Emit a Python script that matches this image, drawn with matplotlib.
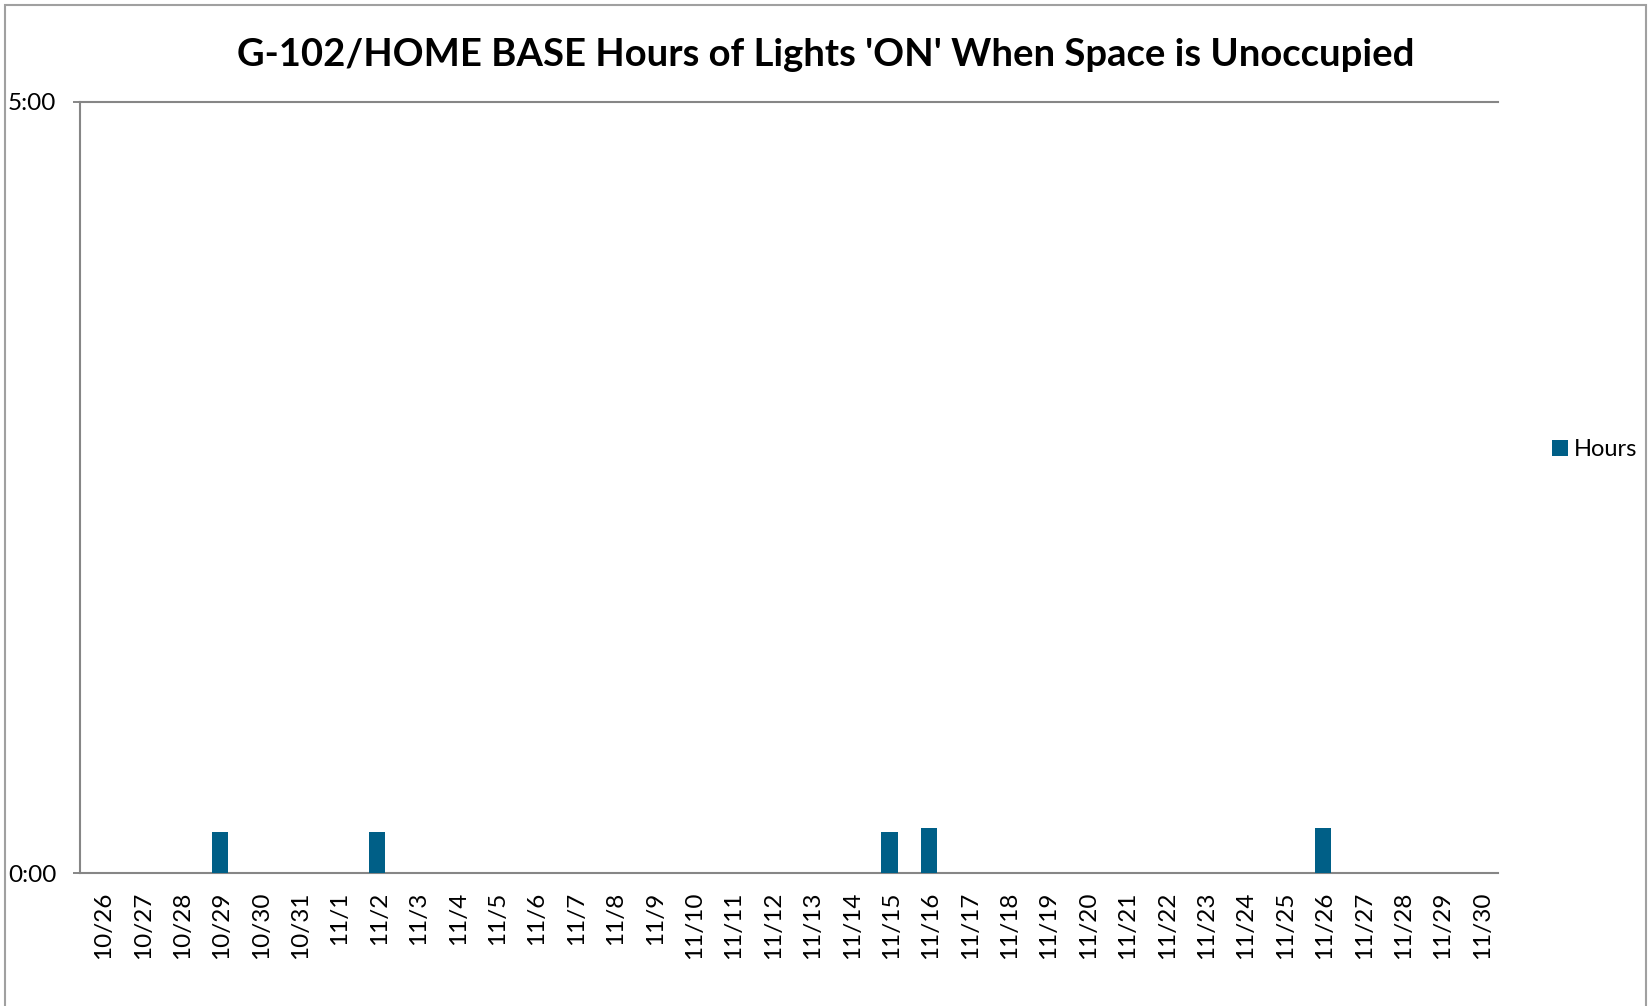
import matplotlib
matplotlib.use("Agg")
import matplotlib.pyplot as plt
import matplotlib.transforms as mtransforms
from matplotlib.patches import Rectangle
from matplotlib.ticker import FuncFormatter, FixedLocator

# ---- data ----
dates = ["10/26", "10/27", "10/28", "10/29", "10/30", "10/31"] + [f"11/{d}" for d in range(1, 31)]
hours = [0, 0, 0, 0.267, 0, 0,
         0, 0.267, 0, 0, 0, 0, 0, 0, 0, 0,
         0, 0, 0, 0, 0.267, 0.292, 0, 0, 0, 0,
         0, 0, 0, 0, 0, 0.292, 0, 0, 0, 0]
series_name = "Hours"
title = "G-102/HOME BASE Hours of Lights 'ON' When Space is Unoccupied"
y_ticks = [0, 5]

W, H = 1652, 1006
plt.rcParams['font.family'] = ['Lato', 'DejaVu Sans']
fig = plt.figure(figsize=(W / 100, H / 100), dpi=100)

# chart-area border
fig.patches.append(Rectangle((5 / W, -0.05), (1646 - 5) / W, 1 - 5 / H + 0.05,
                             transform=fig.transFigure, fill=False,
                             edgecolor="#A0A0A0", linewidth=1.5))

left, right, top, bottom = 80 / W, 1498 / W, 1 - 102 / H, 1 - 873 / H
ax = fig.add_axes([left, bottom, right - left, top - bottom])

bar_color = "#005F87"
x = list(range(len(dates)))
ax.bar([i + 0.05 for i in x], hours, width=0.41, color=bar_color, label=series_name, zorder=3)

ax.set_xlim(-0.5, len(dates) - 0.5)
ax.set_ylim(0, 5)
ax.xaxis.set_major_locator(FixedLocator(x))
ax.set_xticklabels(dates, rotation=90, fontsize=17.5)
ax.tick_params(axis="x", length=0, pad=13.5)
offset = mtransforms.ScaledTranslation(4 / 100, 0, fig.dpi_scale_trans)
for lbl in ax.get_xticklabels():
    lbl.set_transform(lbl.get_transform() + offset)

ax.yaxis.set_major_locator(FixedLocator(y_ticks))
ax.yaxis.set_major_formatter(FuncFormatter(lambda v, p: f"{int(v)}:{int(round((v % 1) * 60)):02d}"))
ax.tick_params(axis="y", length=5, width=1.4, color="#868686", pad=12, labelsize=17.5)

for s in ["left", "bottom", "top"]:
    ax.spines[s].set_color("#868686")
    ax.spines[s].set_linewidth(1.5)
ax.spines["right"].set_visible(False)

fig.text(826 / W, 1 - 55 / H, title, ha="center", va="center",
         fontsize=27.5, fontweight="bold")

fig.legend(loc="center left", bbox_to_anchor=(1552 / W, 1 - 450 / H),
           frameon=False, fontsize=17, handlelength=0.68, handleheight=0.68,
           handletextpad=0.26, borderpad=0, borderaxespad=0)

fig.savefig("out.png", dpi=100)
